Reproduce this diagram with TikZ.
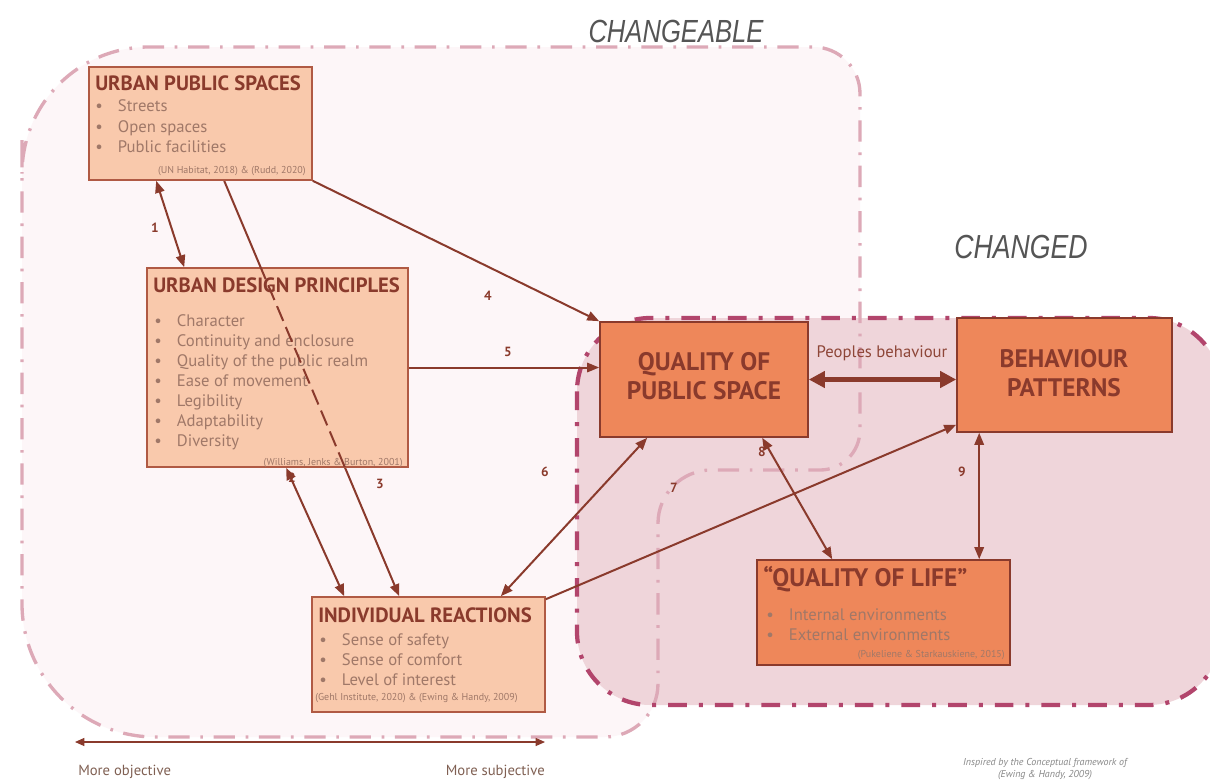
\documentclass[tikz,border=0pt]{standalone}
\usepackage{fontspec}
\setmainfont{PT Sans}
\newfontfamily\din{PT Sans}
\newfontfamily\headfont[FakeStretch=0.8]{Liberation Sans}
\usetikzlibrary{arrows.meta,fit,calc}
\definecolor{dbrown}{HTML}{8A3A2C}
\definecolor{lfill}{HTML}{F9C9AC}
\definecolor{lborder}{HTML}{B05A44}
\definecolor{ofill}{HTML}{EE875A}
\definecolor{itemc}{HTML}{A07868}
\definecolor{cblout}{HTML}{DDA9B7}
\definecolor{cblfill}{HTML}{FDF6F8}
\definecolor{cdout}{HTML}{B2456C}
\definecolor{cdfill}{HTML}{EFD5DA}
\definecolor{headc}{HTML}{555555}
\pgfdeclarelayer{back}
\pgfdeclarelayer{mid}
\pgfsetlayers{back,mid,main}
\newcommand\bl{\makebox[17pt][l]{\textbullet}}
\tikzset{
  lbox/.style={draw=lborder, line width=1.2pt, fill=lfill, inner sep=0pt},
  obox/.style={draw=dbrown, line width=1.2pt, fill=ofill, inner sep=0pt},
  ttl/.style={font=\din\bfseries\fontsize{15.5}{17}\selectfont, text=dbrown, inner sep=0pt},
  bigttl/.style={font=\din\bfseries\fontsize{19}{22}\selectfont, text=dbrown, align=center, inner sep=0pt},
  itm/.style={font=\din\fontsize{12.5}{14}\selectfont, text=itemc, inner sep=0pt},
  cite/.style={font=\din\fontsize{7.5}{9}\selectfont, text=itemc, inner sep=0pt},
  num/.style={font=\din\bfseries\fontsize{10}{11}\selectfont, text=dbrown, inner sep=0pt},
  conn/.style={draw=dbrown, line width=1.5pt},
  tip/.style={-{Triangle[length=9pt,width=7pt]}},
  tips/.style={{Triangle[length=9pt,width=7pt]}-{Triangle[length=9pt,width=7pt]}},
  head/.style={font=\headfont\itshape\fontsize{24}{26}\selectfont, text=headc, inner sep=0pt},
  note/.style={font=\din\fontsize{11}{13}\selectfont, text=itemc!80!black, inner sep=0pt},
}
\begin{document}
\begin{tikzpicture}[x=0.75pt,y=-0.75pt]
\useasboundingbox (0,0) rectangle (1210,783);

% regions
\begin{pgfonlayer}{back}
\fill[white] (0,0) rectangle (1210,783);
\fill[cblfill] (22,140) [rounded corners=95] -- (22,47) [rounded corners=35] -- (860,47) [rounded corners=30] -- (860,470) [rounded corners=40] -- (658,470) [rounded corners=40] -- (658,737) [rounded corners=100] -- (22,737) [rounded corners=0] -- cycle;
\fill[cdfill, rounded corners=55] (577,318) rectangle (1222,705);
\draw[cblout, line width=2.5pt, dash pattern=on 16pt off 8pt on 2pt off 8pt] (22,140) [rounded corners=95] -- (22,47) [rounded corners=35] -- (860,47) [rounded corners=30] -- (860,470) [rounded corners=40] -- (658,470) [rounded corners=40] -- (658,737) [rounded corners=100] -- (22,737) [rounded corners=0] -- cycle;
\draw[cdout, line width=3.2pt, dash pattern=on 14pt off 9pt on 3pt off 9pt, rounded corners=55] (577,318) rectangle (1222,705);
\end{pgfonlayer}

\node[head, anchor=base] (chgable) at (676,42) {CHANGEABLE};
\node[head, anchor=base, font=\headfont\itshape\fontsize{25}{27}\selectfont] (chgd) at (1021,258) {CHANGED};

% boxes
\node[lbox, fit={(89,67) (312,180)}] (ups) {};
\node[lbox, fit={(147,268) (408,467)}] (udp) {};
\node[lbox, fit={(312,597) (545,712)}] (ir) {};
\node[obox, fit={(600,322) (808,437)}] (qps) {};
\node[obox, fit={(957,318) (1172,432)}] (bp) {};
\node[obox, fit={(757,560) (1010,665)}] (qol) {};

% box texts
\node[ttl, anchor=base west] (upsT) at (95,90) {URBAN PUBLIC SPACES};
\foreach \t [count=\i] in {Streets, Open spaces, Public facilities}
  \node[itm, anchor=base west] (upsI\i) at (95,{91+20.5*\i}) {\bl\t};
\node[cite, anchor=base east] (upsC) at (306,173) {(UN Habitat, 2018) \& (Rudd, 2020)};

\node[ttl, anchor=base west] (udpT) at (153,292) {URBAN DESIGN PRINCIPLES};
\foreach \t [count=\i] in {Character, Continuity and enclosure, Quality of the public realm, Ease of movement, Legibility, Adaptability, Diversity}
  \node[itm, anchor=base west] (udpI\i) at (154,{306+20*\i}) {\bl\t};
\node[cite, anchor=base east] (udpC) at (403,465) {(Williams, Jenks \& Burton, 2001)};

\node[ttl, anchor=base west] (irT) at (318,622) {INDIVIDUAL REACTIONS};
\foreach \t [count=\i] in {Sense of safety, Sense of comfort, Level of interest}
  \node[itm, anchor=base west] (irI\i) at (319,{625+20*\i}) {\bl\t};
\node[cite, anchor=base west] (irC) at (315,700) {(Gehl Institute, 2020) \& (Ewing \& Handy, 2009)};

\node[bigttl] (qpsT) at (704,376) {QUALITY OF\\PUBLIC SPACE};
\node[bigttl] (bpT) at (1064,373) {BEHAVIOUR\\PATTERNS};

\node[ttl, font=\din\bfseries\fontsize{19}{21}\selectfont, anchor=base west] (qolT) at (763,586) {“QUALITY OF LIFE”};
\foreach \t [count=\i] in {Internal environments, External environments}
  \node[itm, anchor=base west] (qolI\i) at (766,{600+20*\i}) {\bl\t};
\node[cite, anchor=base east] (qolC) at (1005,657) {(Pukeliene \& Starkauskiene, 2015)};

% connectors
\begin{pgfonlayer}{mid}
\draw[conn, tip] ($(ups.south west)+(136,0)$) -- ($(ir.north west)+(88,0)$);
\end{pgfonlayer}
\begin{scope}
\clip (udp.south west) rectangle (udp.north east);
\draw[conn, dash pattern=on 12pt off 5pt] ($(ups.south west)+(136,0)$) -- ($(ir.north west)+(88,0)$);
\end{scope}
\draw[conn, tips] ($(ups.south west)+(68,0)$) -- ($(udp.north west)+(38,0)$);
\draw[conn, tip] (ups.south east) -- (qps.north west);
\draw[conn, tip] (udp.east) -- (udp.east -| qps.west);
\draw[conn, tips] ($(udp.south west)+(140,0)$) -- ($(ir.north west)+(33,0)$);
\draw[conn, tips] ($(qps.south west)+(48,0)$) -- ($(ir.north east)+(-45,0)$);
\draw[conn, tip] ($(ir.north east)+(0,3)$) -- ($(bp.south west)+(0,-8)$);
\draw[conn, tips] ($(qps.south west)+(163,0)$) -- ($(qol.north west)+(76,0)$);
\draw[conn, tips] ($(bp.south west)+(23,0)$) -- ($(qol.north west)+(223,0)$);
\draw[draw=dbrown, line width=4pt, {Triangle[length=12pt,width=12pt]}-{Triangle[length=12pt,width=12pt]}] (qps.east) -- (qps.east -| bp.west);
\node[itm, text=dbrown!80!itemc, anchor=base] (pb) at (882,357) {Peoples behaviour};

% labels
\node[num] (n1) at (155,228) {1};
\node[num] (n2) at (292,478) {2};
\node[num] (n3) at (380,484) {3};
\node[num] (n4) at (488,296) {4};
\node[num] (n5) at (508,352) {5};
\node[num] (n6) at (545,472) {6};
\node[num] (n7) at (674,488) {7};
\node[num] (n8) at (762,452) {8};
\node[num] (n9) at (962,472) {9};

% objective/subjective scale
\coordinate (sL) at (75,742);
\coordinate (sR) at (545,742);
\draw[dbrown, line width=0.8pt, {Triangle[length=7pt,width=6pt]}-{Triangle[length=7pt,width=6pt]}] (sL) -- (sR);
\node[note, anchor=base west] (mo) at (78,775) {More objective};
\node[note, anchor=base east] (ms) at (545,775) {More subjective};
\node[font=\din\itshape\fontsize{7.5}{9}\selectfont, text=headc!70, align=center, inner sep=0pt] (insp) at (1045,769) {Inspired by the Conceptual framework of\\(Ewing \& Handy, 2009)};
\end{tikzpicture}
\end{document}
